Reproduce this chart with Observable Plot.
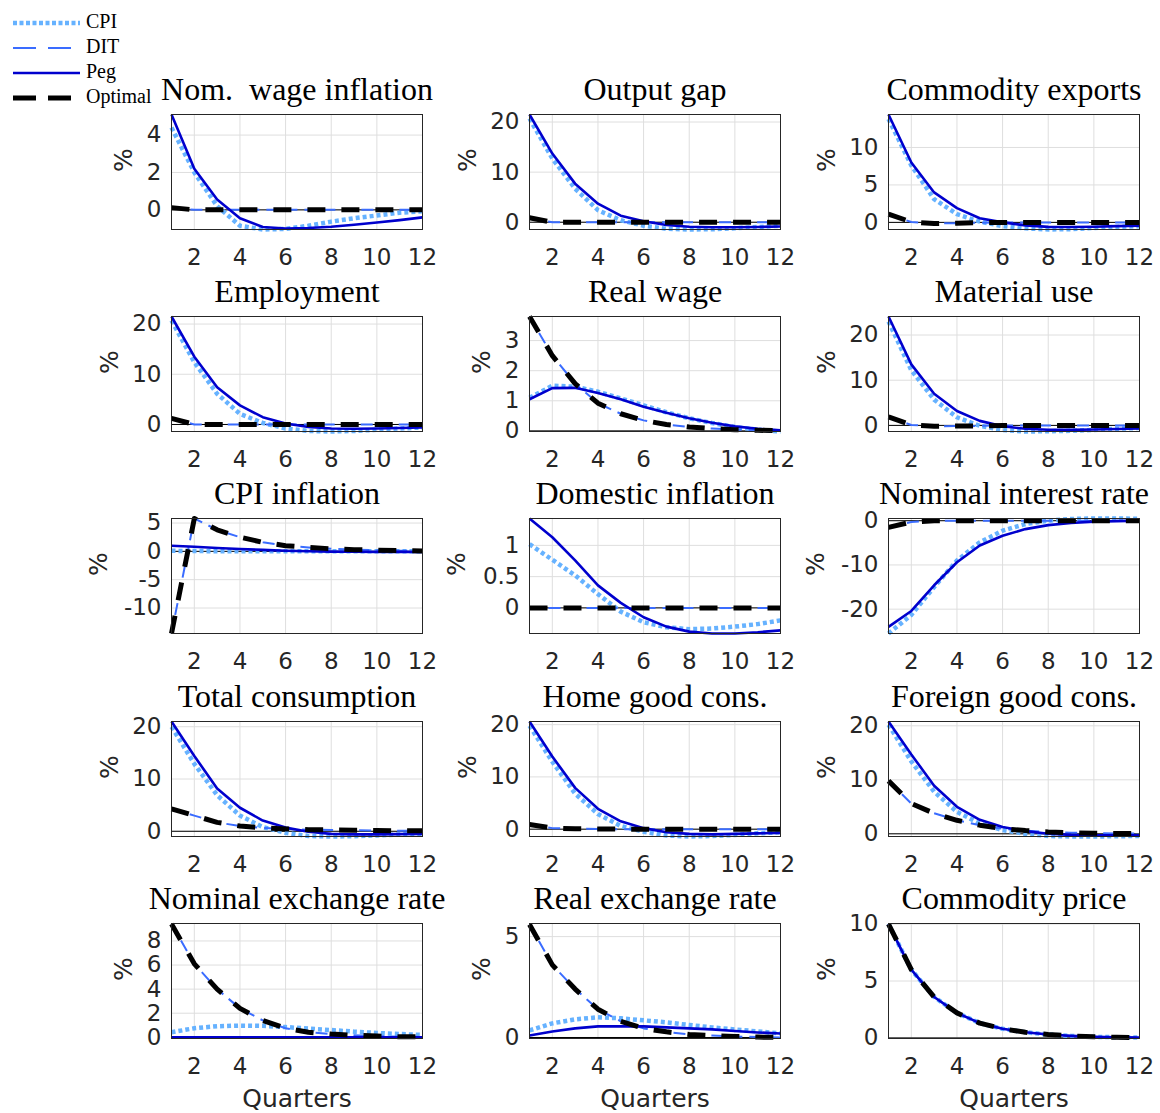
<!DOCTYPE html>
<html>
<head>
<meta charset="utf-8">
<script src="https://cdn.jsdelivr.net/npm/d3@7"></script>
<script src="https://cdn.jsdelivr.net/npm/@observablehq/plot@0.6"></script>
<style>
  body { margin: 0; background: #fff; }
  #fig { position: relative; width: 1160px; height: 1113px; background: #fff; overflow: hidden; }
  #fig svg { position: absolute; overflow: visible; }
</style>
</head>
<body>
<div id="fig"></div>
<script>
// Impulse responses (percent deviations) over 12 quarters under four policy rules.
const quarters = [1, 2, 3, 4, 5, 6, 7, 8, 9, 10, 11, 12];

const titles = [
  "Nom.  wage inflation", "Output gap", "Commodity exports",
  "Employment", "Real wage", "Material use",
  "CPI inflation", "Domestic inflation", "Nominal interest rate",
  "Total consumption", "Home good cons.", "Foreign good cons.",
  "Nominal exchange rate", "Real exchange rate", "Commodity price"
];

const seriesNames = ["CPI", "DIT", "Peg", "Optimal"];

// CPI inflation targeting
const cpiRule = [
  [4.4, 2.0, 0.2, -0.85, -1.05, -1.02, -0.85, -0.63, -0.45, -0.3, -0.15, -0.08],
  [20.7, 12.7, 6.7, 2.4, 0.4, -0.7, -1.3, -1.45, -1.4, -1.2, -0.95, -0.7],
  [13.8, 7.6, 3.1, 1.1, 0.1, -0.5, -0.8, -0.95, -0.9, -0.75, -0.6, -0.5],
  [20.7, 12.4, 6.1, 2.1, 0.3, -0.8, -1.3, -1.4, -1.3, -1.05, -0.8, -0.6],
  [1.1, 1.5, 1.47, 1.3, 1.08, 0.85, 0.62, 0.42, 0.26, 0.13, 0.04, -0.02],
  [23.0, 12.2, 5.7, 1.8, -0.1, -1.0, -1.35, -1.3, -1.2, -1.0, -0.75, -0.55],
  [0.1, 0.05, 0.03, 0.02, 0.01, 0, 0, 0, 0, 0, 0, 0],
  [1.02, 0.77, 0.52, 0.22, -0.06, -0.23, -0.31, -0.34, -0.33, -0.3, -0.26, -0.2],
  [-25.5, -21.3, -15.0, -9.0, -4.9, -2.25, -0.75, 0, 0.4, 0.5, 0.5, 0.45],
  [20.0, 12.9, 6.9, 3.0, 0.8, -0.3, -0.9, -1.0, -0.95, -0.8, -0.6, -0.5],
  [19.8, 12.9, 6.8, 2.9, 0.6, -0.5, -1.2, -1.4, -1.3, -1.1, -0.8, -0.6],
  [20.2, 13.4, 7.8, 4.05, 1.9, 0.7, 0.0, -0.4, -0.5, -0.5, -0.45, -0.4],
  [0.42, 0.75, 0.92, 0.97, 0.95, 0.85, 0.72, 0.6, 0.47, 0.36, 0.27, 0.2],
  [0.35, 0.7, 0.9, 1.0, 0.95, 0.85, 0.75, 0.62, 0.5, 0.4, 0.3, 0.2],
  [10.0, 6.0, 3.6, 2.2, 1.3, 0.8, 0.5, 0.3, 0.18, 0.1, 0.06, 0.03]
];

// Domestic inflation targeting
const ditRule = [
  [0.12, 0, 0, 0, 0, 0, 0, 0, 0, 0, 0, 0],
  [0.9, 0, 0, 0, 0, 0, 0, 0, 0, 0, 0, 0],
  [1.1, 0.05, -0.15, -0.1, -0.05, 0, 0, 0, 0, 0, 0, 0],
  [1.2, 0, 0, 0, 0, 0, 0, 0, 0, 0, 0, 0],
  [3.8, 2.5, 1.57, 0.92, 0.57, 0.35, 0.21, 0.13, 0.08, 0.04, 0.02, 0.01],
  [1.9, 0.1, -0.2, -0.15, -0.1, 0, 0, 0, 0, 0, 0, 0],
  [-14.5, 5.8, 3.8, 2.5, 1.6, 1.0, 0.7, 0.45, 0.3, 0.2, 0.12, 0.08],
  [0, 0, 0, 0, 0, 0, 0, 0, 0, 0, 0, 0],
  [-1.5, -0.3, 0, 0, 0, 0, 0, 0, 0, 0, 0, 0],
  [4.3, 3.0, 1.7, 1.0, 0.65, 0.45, 0.3, 0.25, 0.2, 0.15, 0.1, 0.1],
  [0.9, 0.2, 0.1, 0.05, 0, 0, 0, 0, 0, 0, 0, 0],
  [9.8, 5.6, 3.8, 2.5, 1.6, 0.95, 0.6, 0.35, 0.2, 0.1, 0.05, 0.05],
  [9.4, 6.1, 4.0, 2.4, 1.4, 0.75, 0.42, 0.27, 0.17, 0.1, 0.05, 0.03],
  [5.6, 3.6, 2.4, 1.4, 0.8, 0.45, 0.28, 0.15, 0.1, 0.05, 0.02, 0.0],
  [10.0, 6.0, 3.6, 2.2, 1.3, 0.8, 0.5, 0.3, 0.18, 0.1, 0.06, 0.03]
];

// Exchange rate peg
const pegRule = [
  [5.1, 2.2, 0.55, -0.45, -0.92, -1.0, -0.97, -0.9, -0.8, -0.68, -0.55, -0.4],
  [21.5, 13.7, 7.7, 3.7, 1.3, 0.2, -0.55, -0.9, -1.0, -1.0, -0.95, -0.85],
  [14.4, 8.0, 4.0, 1.9, 0.55, 0.0, -0.4, -0.6, -0.62, -0.58, -0.5, -0.45],
  [21.5, 13.5, 7.4, 3.8, 1.45, 0.2, -0.5, -0.8, -0.85, -0.8, -0.7, -0.6],
  [1.05, 1.42, 1.43, 1.26, 1.05, 0.8, 0.6, 0.42, 0.27, 0.15, 0.07, 0.02],
  [24.1, 13.5, 7.0, 3.2, 1.0, -0.2, -0.75, -0.95, -1.0, -0.9, -0.8, -0.7],
  [1.0, 0.8, 0.6, 0.42, 0.27, 0.12, 0.02, -0.05, -0.08, -0.1, -0.1, -0.1],
  [1.43, 1.13, 0.76, 0.36, 0.08, -0.15, -0.3, -0.38, -0.41, -0.41, -0.39, -0.36],
  [-24.0, -20.4, -14.6, -9.4, -5.6, -3.4, -1.9, -1.0, -0.5, -0.2, -0.1, 0],
  [21.0, 14.4, 8.2, 4.5, 2.05, 0.7, -0.1, -0.5, -0.6, -0.6, -0.55, -0.5],
  [20.6, 13.9, 7.9, 3.9, 1.5, 0.2, -0.6, -0.9, -1.0, -0.9, -0.8, -0.7],
  [20.8, 14.7, 8.9, 5.0, 2.6, 1.25, 0.5, 0.0, -0.2, -0.3, -0.3, -0.3],
  [0, 0, 0, 0, 0, 0, 0, 0, 0, 0, 0, 0],
  [0.1, 0.3, 0.45, 0.55, 0.55, 0.55, 0.5, 0.45, 0.4, 0.32, 0.25, 0.2],
  [10.0, 6.0, 3.6, 2.2, 1.3, 0.8, 0.5, 0.3, 0.18, 0.1, 0.06, 0.03]
];

// Optimal policy
const optimalRule = [
  [0.12, 0, 0, 0, 0, 0, 0, 0, 0, 0, 0, 0],
  [0.9, 0, 0, 0, 0, 0, 0, 0, 0, 0, 0, 0],
  [1.1, 0.05, -0.15, -0.1, -0.05, 0, 0, 0, 0, 0, 0, 0],
  [1.2, 0, 0, 0, 0, 0, 0, 0, 0, 0, 0, 0],
  [3.8, 2.5, 1.57, 0.92, 0.57, 0.35, 0.21, 0.13, 0.08, 0.04, 0.02, 0.01],
  [1.9, 0.1, -0.2, -0.15, -0.1, 0, 0, 0, 0, 0, 0, 0],
  [-14.5, 5.8, 3.8, 2.5, 1.6, 1.0, 0.7, 0.45, 0.3, 0.2, 0.12, 0.08],
  [0, 0, 0, 0, 0, 0, 0, 0, 0, 0, 0, 0],
  [-1.5, -0.3, 0, 0, 0, 0, 0, 0, 0, 0, 0, 0],
  [4.3, 3.0, 1.7, 1.0, 0.65, 0.45, 0.3, 0.25, 0.2, 0.15, 0.1, 0.1],
  [0.9, 0.2, 0.1, 0.05, 0, 0, 0, 0, 0, 0, 0, 0],
  [9.8, 5.6, 3.8, 2.5, 1.6, 0.95, 0.6, 0.35, 0.2, 0.1, 0.05, 0.05],
  [9.4, 6.1, 4.0, 2.4, 1.4, 0.75, 0.42, 0.27, 0.17, 0.1, 0.05, 0.03],
  [5.6, 3.6, 2.4, 1.4, 0.8, 0.45, 0.28, 0.15, 0.1, 0.05, 0.02, 0.0],
  [10.0, 6.0, 3.6, 2.2, 1.3, 0.8, 0.5, 0.3, 0.18, 0.1, 0.06, 0.03]
];

const xTicks = [2, 4, 6, 8, 10, 12];
const yTicks = [
  [0, 2, 4], [0, 10, 20], [0, 5, 10],
  [0, 10, 20], [0, 1, 2, 3], [0, 10, 20],
  [-10, -5, 0, 5], [0, 0.5, 1], [-20, -10, 0],
  [0, 10, 20], [0, 10, 20], [0, 10, 20],
  [0, 2, 4, 6, 8], [0, 5], [0, 5, 10]
];
const yDomains = [
  [-1.05, 5.1], [-1.45, 21.5], [-0.95, 14.4],
  [-1.4, 21.5], [-0.02, 3.8], [-1.35, 24.1],
  [-14.5, 5.8], [-0.41, 1.43], [-25.5, 0.5],
  [-1.0, 21.0], [-1.4, 20.6], [-0.5, 20.8],
  [-0.1, 9.45], [-0.05, 5.65], [-0.05, 10.05]
];

// Line styles for each rule (CPI, DIT, Peg, Optimal)
const styles = [
  {stroke: "#66b2ff", strokeWidth: 4.5, strokeDasharray: "4,3", strokeLinecap: "butt"},
  {stroke: "#3a6cff", strokeWidth: 2, strokeDasharray: "12,7", strokeLinecap: "butt"},
  {stroke: "#0000cd", strokeWidth: 2.6, strokeLinecap: "butt"},
  {stroke: "#000000", strokeWidth: 5, strokeDasharray: "18,16", strokeLinecap: "butt"}
];
const rules = [cpiRule, ditRule, pegRule, optimalRule];

// Panel geometry
const colLeft = [171, 529, 888];
const rowTop = [114, 316, 518, 721, 923];
const plotW = 251, plotH = 115;
const mL = 110, mR = 20, mT = 50, mB = 50;

const fig = document.getElementById("fig");
const tickColor = "#262626";

// Distance from the plot's left edge to the centre of the "%" label
function labelOffset(ticks) {
  const w = d3.max(ticks, t => String(t).length);
  return w === 1 ? 48 : w === 2 ? 62 : 73;
}

titles.forEach((title, i) => {
  const col = i % 3, row = Math.floor(i / 3);
  const marks = [
    Plot.gridX(xTicks, {stroke: "#dedede", strokeOpacity: 1}),
    Plot.gridY(yTicks[i], {stroke: "#dedede", strokeOpacity: 1}),
    Plot.ruleY([0], {stroke: "#000", strokeWidth: 1}),
    ...rules.map((rule, k) =>
      Plot.line(rule[i], {x: (d, j) => quarters[j], y: d => d, ...styles[k]})
    ),
    Plot.frame({stroke: tickColor, strokeWidth: 1}),
    Plot.axisX({ticks: xTicks, tickSize: 0, tickPadding: 19, fontSize: 23, fill: tickColor, label: null, tickFormat: d => String(d)}),
    Plot.axisY({ticks: yTicks[i], tickSize: 0, tickPadding: 10, fontSize: 23, fill: tickColor, label: null, tickFormat: d => String(d)}),
    Plot.text([title], {frameAnchor: "top", dy: -15, lineAnchor: "bottom", fontFamily: "Liberation Serif", fontSize: 32, fill: "#000"}),
    Plot.text(["%"], {frameAnchor: "left", dx: -labelOffset(yTicks[i]), rotate: -90, fontSize: 25, fill: tickColor})
  ];
  if (row === 4) {
    marks.push(Plot.text(["Quarters"], {frameAnchor: "bottom", dy: 68, lineAnchor: "bottom", fontSize: 25, fill: tickColor}));
  }
  const svg = Plot.plot({
    width: plotW + mL + mR,
    height: plotH + mT + mB,
    marginLeft: mL, marginRight: mR, marginTop: mT, marginBottom: mB,
    x: {domain: [1, 12]},
    y: {domain: yDomains[i]},
    style: {fontFamily: "DejaVu Sans", fontSize: "23px", background: "transparent", color: tickColor},
    marks
  });
  svg.style.left = (colLeft[col] - mL) + "px";
  svg.style.top = (rowTop[row] - mT) + "px";
  fig.appendChild(svg);
});

// Legend (top left)
const legendDash = ["4,2.5", "23,12", null, "23,12"];
const legend = d3.create("svg")
  .attr("width", 170).attr("height", 110)
  .style("left", "0px").style("top", "0px");
seriesNames.forEach((name, k) => {
  const y = 23 + k * 25;
  const ln = legend.append("line")
    .attr("x1", 13).attr("x2", 80).attr("y1", y).attr("y2", y)
    .attr("stroke", styles[k].stroke)
    .attr("stroke-width", styles[k].strokeWidth);
  if (legendDash[k]) ln.attr("stroke-dasharray", legendDash[k]);
  legend.append("text")
    .attr("x", 86).attr("y", y + 5)
    .attr("font-family", "Liberation Serif").attr("font-size", 20)
    .attr("fill", "#000")
    .text(name);
});
fig.appendChild(legend.node());
</script>
</body>
</html>
